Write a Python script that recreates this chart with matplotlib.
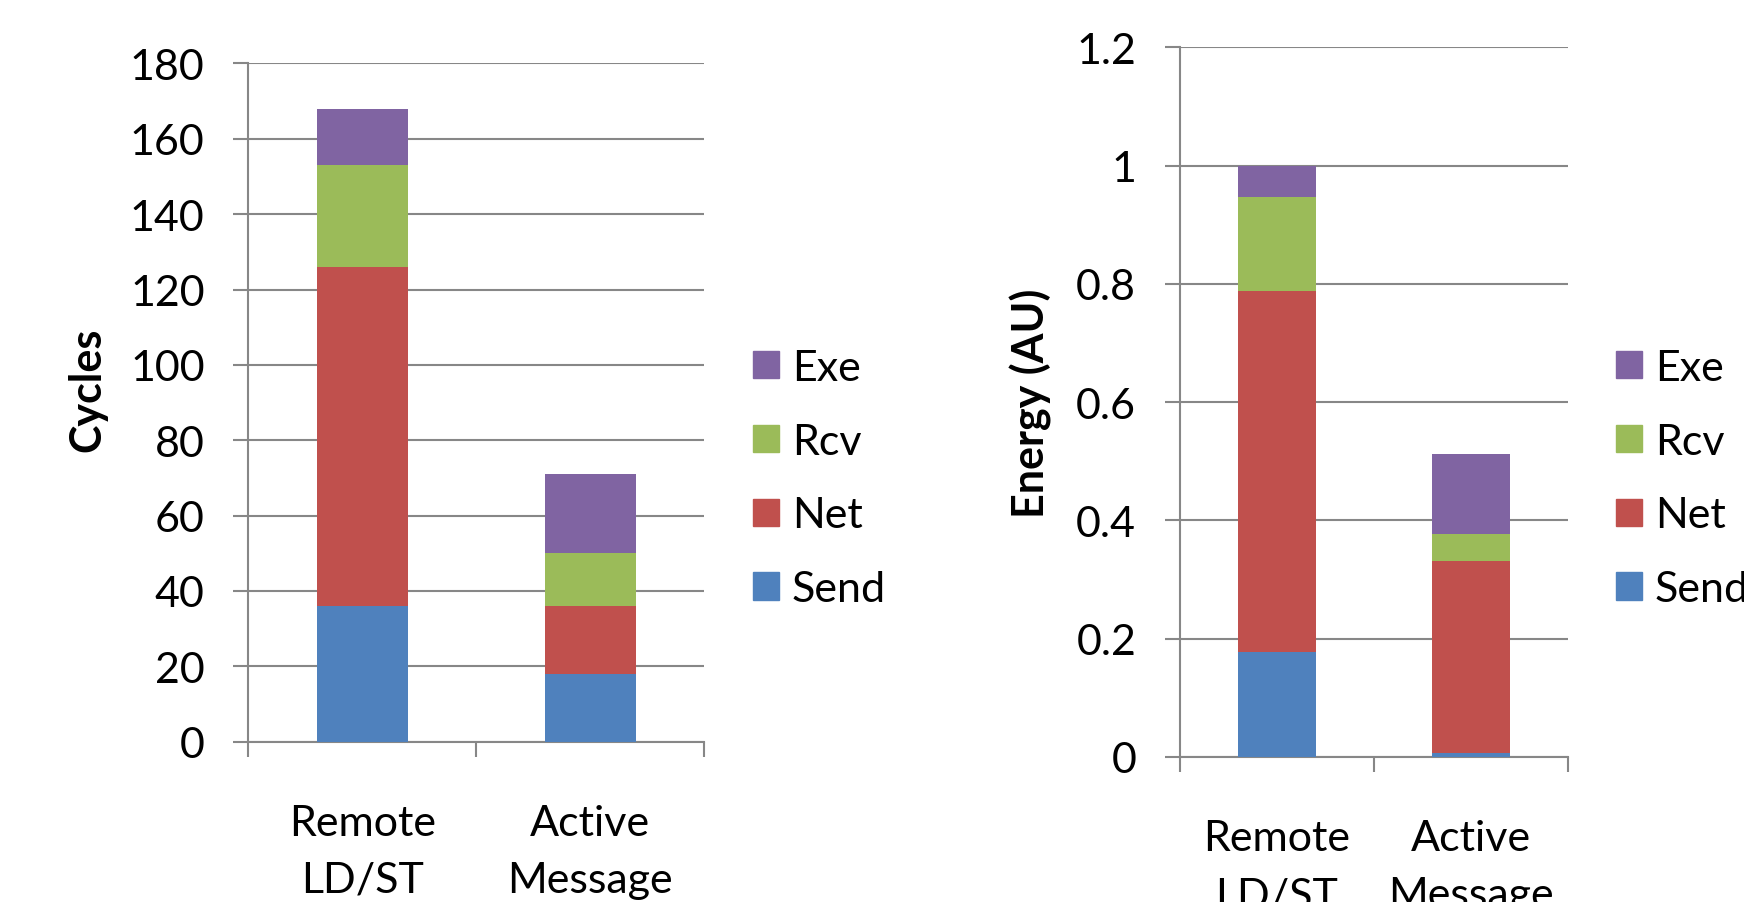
import matplotlib.pyplot as plt
from matplotlib.patches import Patch
import numpy as np

plt.rcParams['font.family'] = ['Lato', 'DejaVu Sans']

categories = ['Remote\nLD/ST', 'Active\nMessage']
series = ['Send', 'Net', 'Rcv', 'Exe']
colors = ['#4F81BD', '#C0504D', '#9BBB59', '#8064A2']

cycles_send = [36, 18]
cycles_net = [90, 18]
cycles_rcv = [27, 14]
cycles_exe = [15, 21]
cycles_ticks = [0, 20, 40, 60, 80, 100, 120, 140, 160, 180]
cycles_ticklabels = ['0', '20', '40', '60', '80', '100', '120', '140', '160', '180']

energy_send = [0.178, 0.006]
energy_net = [0.610, 0.325]
energy_rcv = [0.159, 0.046]
energy_exe = [0.053, 0.135]
energy_ticks = [0, 0.2, 0.4, 0.6, 0.8, 1.0, 1.2]
energy_ticklabels = ['0', '0.2', '0.4', '0.6', '0.8', '1', '1.2']

GRID = '#878787'
FS = 31


def panel(ax, parts, ticks, ticklabels, ylabel):
    x = np.arange(len(categories))
    bottom = np.zeros(len(categories))
    for vals, c in zip(parts, colors):
        ax.bar(x, vals, 0.4, bottom=bottom, color=c, linewidth=0, zorder=3)
        bottom += np.array(vals)

    ax.set_xlim(-0.5, len(categories) - 0.5)
    ax.set_ylim(ticks[0], ticks[-1])
    ax.set_yticks(ticks)
    ax.set_yticklabels(ticklabels)
    ax.yaxis.grid(True, color=GRID, linewidth=1.5)
    ax.set_axisbelow(True)

    # category borders as major ticks, names as minor tick labels
    ax.set_xticks(np.arange(len(categories) + 1) - 0.5)
    ax.set_xticklabels([])
    ax.set_xticks(x, minor=True)
    ax.set_xticklabels(categories, minor=True, fontsize=FS, linespacing=1.6)
    ax.tick_params(axis='x', which='minor', length=0, pad=45)
    ax.tick_params(axis='x', which='major', length=10.5, width=1.5, color=GRID)
    ax.tick_params(axis='y', length=10.5, width=1.5, color=GRID, labelsize=FS,
                   pad=21)

    for s in ['top', 'right']:
        ax.spines[s].set_visible(False)
    for s in ['left', 'bottom']:
        ax.spines[s].set_color(GRID)
        ax.spines[s].set_linewidth(1.5)

    ax.set_ylabel(ylabel, fontsize=FS, fontweight='bold')


fig = plt.figure(figsize=(17.44, 9.03), dpi=100)

ax1 = fig.add_axes([0.1424, 0.1775, 0.2613, 0.7511])
panel(ax1, [cycles_send, cycles_net, cycles_rcv, cycles_exe],
      cycles_ticks, cycles_ticklabels, 'Cycles')
ax1.yaxis.set_label_coords(-0.31, 0.52)

ax2 = fig.add_axes([0.6766, 0.1606, 0.2225, 0.7859])
panel(ax2, [energy_send, energy_net, energy_rcv, energy_exe],
      energy_ticks, energy_ticklabels, 'Energy (AU)')
ax2.yaxis.set_label_coords(-0.331, 0.5)

handles = [Patch(color=c, label=s) for s, c in zip(series, colors)][::-1]
for xa in [0.4318, 0.9266]:
    fig.legend(handles=handles, loc='center left', bbox_to_anchor=(xa, 0.469),
               bbox_transform=fig.transFigure, frameon=False, fontsize=FS,
               borderpad=0, borderaxespad=0, handlelength=0.6, handleheight=0.6,
               handletextpad=0.3, labelspacing=0.83)

fig.savefig('out.png', dpi=100)
